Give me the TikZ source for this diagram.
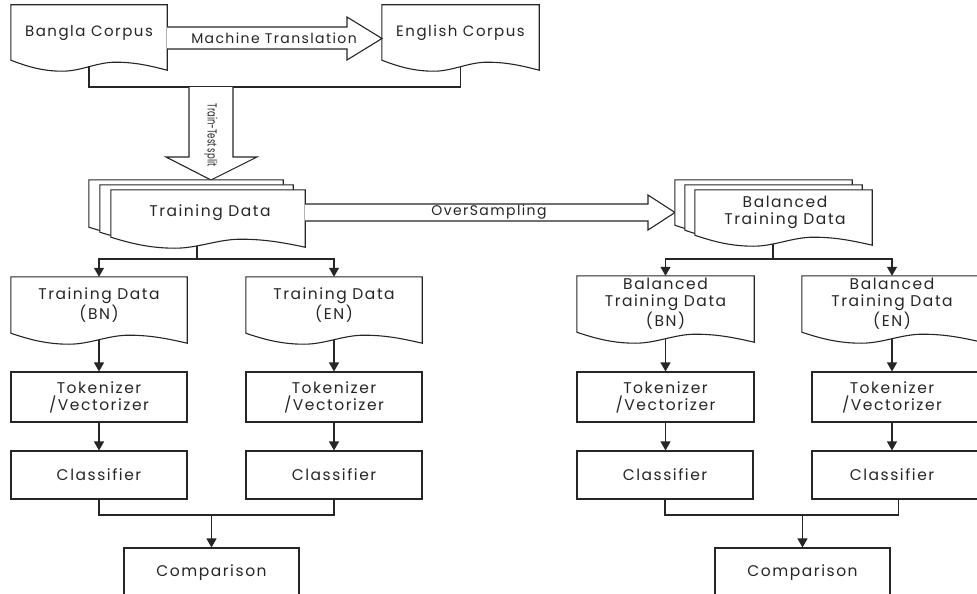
\documentclass[tikz,border=0pt]{standalone}
\usepackage{fontspec}
\setmainfont{Poppins}[LetterSpace=10]
\newfontfamily\tightfont{Poppins}
\usetikzlibrary{calc,arrows.meta}
\tikzset{
  ln/.style={draw=black!85, line width=1.1pt, line join=miter},
  txt/.style={font=\fontsize{15.5}{17}\selectfont, text=black!85, align=center, inner sep=0pt},
  box/.style={ln, fill=white, rectangle, inner sep=0pt, align=center, font=\fontsize{15.5}{17}\selectfont, text=black!85},
  docn/.style={rectangle, inner sep=0pt, align=center, font=\fontsize{15.5}{17}\selectfont, text=black!85},
  arr/.style={ln, -{Triangle[length=9pt,width=10pt]}},
}
\newcommand\docpath[1]{%
  \draw[ln, fill=white] (#1.south west) -- (#1.north west) -- (#1.north east) -- ($(#1.south east)+(0,10)$)
   .. controls ($(#1.south west)!0.9!(#1.south east)+(0,6)$) and ($(#1.south west)!0.8!(#1.south east)+(0,2)$) .. ($(#1.south west)!0.67!(#1.south east)+(0,2)$)
   .. controls ($(#1.south west)!0.55!(#1.south east)+(0,2)$) and ($(#1.south west)!0.45!(#1.south east)+(0,11)$) .. ($(#1.south west)!0.33!(#1.south east)+(0,11)$)
   .. controls ($(#1.south west)!0.2!(#1.south east)+(0,11)$) and ($(#1.south west)!0.1!(#1.south east)+(0,6)$) .. (#1.south west) -- cycle;}
\begin{document}
\begin{tikzpicture}[x=1pt, y=-1pt]
\fill[white] (0,0) rectangle (977,594);
\useasboundingbox (0,0) rectangle (977,594);

% ---------- top corpora ----------
\node[docn, minimum width=156pt, minimum height=55pt] (bangla) at (89,32.5) {};
\node[docn, minimum width=157pt, minimum height=55pt] (english) at (460.5,32.5) {};
\docpath{bangla}
\docpath{english}
\node[docn, font=\fontsize{15}{17}\selectfont] at (bangla) {Bangla Corpus};
\node[docn, font=\fontsize{15}{17}\selectfont] at (english) {English Corpus};

% Machine translation block arrow
\draw[ln, fill=white] (bangla.east |- 0,27) -- (347,27) -- (347,17) -- (382,38.5) -- (347,60) -- (347,49) -- (bangla.east |- 0,49);
\node[txt, font=\fontsize{14}{16}\selectfont] (mt) at (274,38) {Machine Translation};

% bracket joining corpora
\coordinate (brk) at (211,87);
\draw[ln] ($(bangla.south)+(0,6)$) |- (brk) -| ($(english.south)+(0,6)$);

% Train-Test split block arrow
\draw[ln, fill=white] (189,87) -- (189,157) -- (166,157) -- (211,180) -- (257,157) -- (233,157) -- (233,87);
\node[txt, font=\tightfont\fontsize{13}{15}\selectfont, rotate=-90] (tts) at (211,135) {\scalebox{0.65}[1]{Train-Test split}};

% ---------- training data stack ----------
\node[docn, minimum width=194pt, minimum height=47pt] (tb) at (186,203.5) {};
\node[docn, minimum width=193pt, minimum height=47pt] (tm) at (196.5,208.5) {};
\node[docn, minimum width=194pt, minimum height=47pt] (tf) at (208,213.5) {};
\docpath{tb}\docpath{tm}\docpath{tf}
\node[docn] (tdtext) at (210,213) {Training Data};

% OverSampling block arrow
\draw[ln, fill=white] (tf.east |- 0,204) -- (648,204) -- (648,195) -- (675,212.5) -- (648,230) -- (648,221) -- (tf.east |- 0,221);
\node[txt, font=\fontsize{14}{16}\selectfont] (os) at (489,212.5) {OverSampling};

% ---------- balanced stack ----------
\node[docn, minimum width=177pt, minimum height=45pt] (bb) at (763.5,202.5) {};
\node[docn, minimum width=177pt, minimum height=45pt] (bm) at (773.5,207.5) {};
\node[docn, minimum width=177pt, minimum height=45pt] (bf) at (783.5,212.5) {};
\docpath{bb}\docpath{bm}\docpath{bf}
\node[docn] (bdtext) at (785,212) {Balanced\\Training Data};

% ---------- left branch ----------
\node[docn, minimum width=176pt, minimum height=56pt] (tdBN) at (99,305) {};
\node[docn, minimum width=176pt, minimum height=56pt] (tdEN) at (334,305) {};
\docpath{tdBN}\docpath{tdEN}
\node[docn] at (tdBN) {Training Data\\(BN)};
\node[docn] at (tdEN) {Training Data\\(EN)};

\node[box, minimum width=176pt, minimum height=50pt] (tokBN) at (99,397) {Tokenizer\\/Vectorizer};
\node[box, minimum width=176pt, minimum height=50pt] (tokEN) at (334,397) {Tokenizer\\/Vectorizer};
\node[box, minimum width=176pt, minimum height=48pt] (clsBN) at (99,475) {Classifier};
\node[box, minimum width=176pt, minimum height=48pt] (clsEN) at (334,475) {Classifier};
\node[box, minimum width=175pt, minimum height=50pt] (cmpL) at (211.5,573) {Comparison};

% ---------- right branch ----------
\node[docn, minimum width=177pt, minimum height=56pt] (bBN) at (665.5,304) {};
\node[docn, minimum width=180pt, minimum height=56pt] (bEN) at (892,304) {};
\docpath{bBN}\docpath{bEN}
\node[docn] at (bBN) {Balanced\\Training Data\\(BN)};
\node[docn] at (bEN) {Balanced\\Training Data\\(EN)};

\node[box, minimum width=177pt, minimum height=50pt] (btokBN) at (665.5,397) {Tokenizer\\/Vectorizer};
\node[box, minimum width=173pt, minimum height=50pt] (btokEN) at (898.5,397) {};
\node[docn] at (btokEN.center -| bEN.center) {Tokenizer\\/Vectorizer};
\node[box, minimum width=176pt, minimum height=48pt] (bclsBN) at (665,475) {Classifier};
\node[box, minimum width=173pt, minimum height=48pt] (bclsEN) at (898.5,475) {};
\node[docn] at (bclsEN.center -| bEN.center) {Classifier};
\node[box, minimum width=175pt, minimum height=50pt] (cmpR) at (802.5,573) {Comparison};

% ---------- connectors ----------
\coordinate (tsplit) at (197,259);
\draw[ln] (197,246) -- (tsplit);
\draw[arr] (tsplit) -| (tdBN.north);
\draw[arr] (tsplit) -| (tdEN.north);

\coordinate (bsplit) at (773,259);
\draw[ln] (773,244) -- (bsplit);
\draw[arr] (bsplit) -| (bBN.north);
\draw[arr] (bsplit) -| (bEN.north);

\draw[arr] ($(tdBN.south)+(0,6.5)$) -- (tokBN.north);
\draw[arr] ($(tdEN.south)+(0,6.5)$) -- (tokEN.north);
\draw[arr] ($(bBN.south)+(0,6.5)$) -- (btokBN.north -| bBN.south);
\draw[arr] ($(bEN.south)+(0,6.5)$) -- (btokEN.north -| bEN.south);

\draw[arr] (tokBN) -- (clsBN);
\draw[arr] (tokEN) -- (clsEN);
\draw[arr] (btokBN.south -| bBN.south) -- (bclsBN.north -| bBN.south);
\draw[arr] (btokEN.south -| bEN.south) -- (bclsEN.north -| bEN.south);

\coordinate (cjL) at (211.5,515);
\draw[ln] (clsBN.south) |- (cjL) -| (clsEN.south);
\draw[arr] (cjL) -- (cmpL.north);

\coordinate (cjR) at (802.5,515);
\draw[ln] (bclsBN.south) |- (cjR) -| (bclsEN.south);
\draw[arr] (cjR) -- (cmpR.north);
\end{tikzpicture}
\end{document}
